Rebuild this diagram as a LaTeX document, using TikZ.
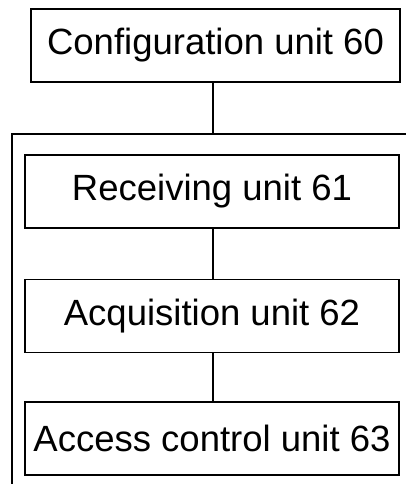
\documentclass[tikz,border=0pt]{standalone}
\usepackage{fontspec}
\setmainfont{Liberation Sans}
\begin{document}
\begin{tikzpicture}[x=1pt,y=-1pt,
  unitbox/.style={draw,line width=1.6pt,minimum height=73pt,inner sep=0pt,font=\fontsize{36.5}{40}\selectfont},
  conn/.style={line width=1.6pt}]
\useasboundingbox (0,0) rectangle (405,484);
\node[unitbox,minimum width=369pt] (cfg) at (215.5,45.5) {Configuration unit 60};
\node[unitbox,minimum width=374pt] (rx) at (212,191.5) {Receiving unit 61};
\node[unitbox,minimum width=374pt] (acq) at (212,316) {Acquisition unit 62};
\node[unitbox,minimum width=374pt] (acc) at (212,438.5) {Access control unit 63};
\coordinate (top) at (213,134);
\coordinate (tl) at (12,134);
\coordinate (tr) at (406,134);
\coordinate (bl) at (12,485);
\draw[conn] (cfg.south -| top) -- (top);
\draw[conn] (tr) -- (tl) -- (bl);
\draw[conn] (rx.south -| top) -- (acq.north -| top);
\draw[conn] (acq.south -| top) -- (acc.north -| top);
\end{tikzpicture}
\end{document}
